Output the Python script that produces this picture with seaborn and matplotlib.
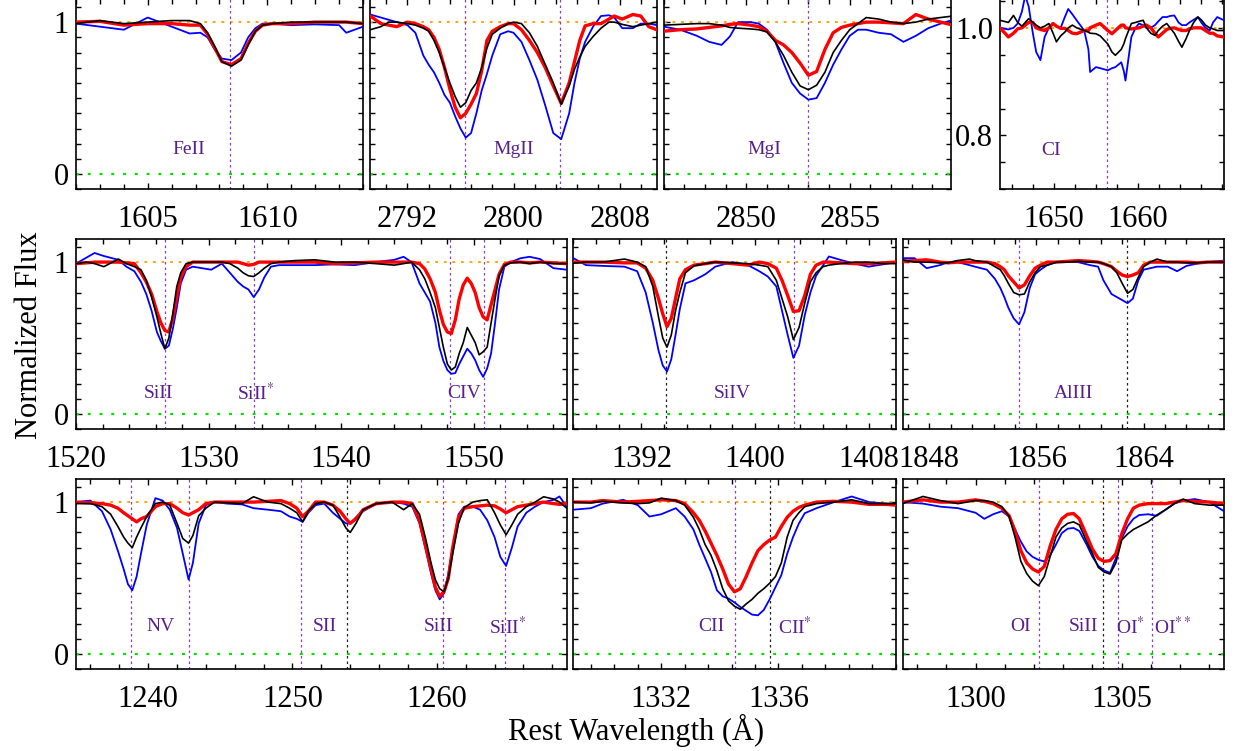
import matplotlib
matplotlib.use('Agg')
import matplotlib.pyplot as plt
from matplotlib.ticker import MultipleLocator, FixedLocator
import seaborn as sns

sns.set_theme(style='ticks')
plt.rcParams['font.family'] = ['Liberation Serif', 'DejaVu Serif']
plt.rcParams['mathtext.fontset'] = 'stix'
plt.rcParams['text.color'] = 'black'
plt.rcParams['axes.labelcolor'] = 'black'
plt.rcParams['xtick.color'] = 'black'
plt.rcParams['ytick.color'] = 'black'

# ---------------- data ----------------
# FeII 1608
feii_wave = [1602.0, 1603.0, 1604.0, 1605.0, 1606.0, 1606.75, 1607.2, 1607.5, 1607.8, 1608.1, 1608.5,
             1608.9, 1609.2, 1609.5, 1609.8, 1610.2, 1611.0, 1612.0, 1613.0, 1613.3, 1614.0]
feii_black = [0.99, 1.01, 0.99, 1.0, 1.01, 1.01, 0.99, 0.93, 0.84, 0.74, 0.71, 0.75, 0.85, 0.94, 0.98,
              0.99, 1.0, 1.0, 1.0, 1.0, 0.99]
feii_red = [1.0, 1.005, 0.98, 0.99, 0.99, 0.98, 0.98, 0.92, 0.83, 0.74, 0.72, 0.76, 0.86, 0.94, 0.98,
            0.99, 0.99, 1.0, 1.0, 1.0, 0.99]
feii_blue = [0.99, 0.97, 0.95, 1.03, 0.97, 0.925, 0.93, 0.90, 0.82, 0.76, 0.75, 0.80, 0.90, 0.96, 0.99,
             0.99, 0.98, 0.985, 0.98, 0.93, 0.97]

# MgII 2796/2803
mgii_wave = [2789.2, 2790.0, 2790.6, 2791.2, 2792.0, 2792.6, 2793.2, 2793.6, 2794.0, 2794.4, 2794.8,
             2795.2, 2795.6, 2796.0, 2796.4, 2796.8, 2797.2, 2797.6, 2798.0, 2798.4, 2799.0, 2799.6,
             2800.0, 2800.6, 2801.2, 2801.8, 2802.4, 2803.0, 2803.6, 2804.2, 2804.6, 2805.0, 2805.4,
             2806.0, 2806.6, 2807.2, 2807.6, 2808.2, 2809.0, 2809.6, 2810.2, 2810.8]
mgii_black = [0.95, 0.97, 1.0, 1.0, 0.99, 0.98, 0.96, 0.94, 0.88, 0.80, 0.70, 0.60, 0.51, 0.44, 0.47,
              0.55, 0.60, 0.70, 0.83, 0.92, 0.96, 0.99, 1.0, 0.99, 0.93, 0.84, 0.72, 0.60, 0.46, 0.58,
              0.69, 0.77, 0.84, 0.905, 0.96, 1.0, 1.0, 0.985, 0.97, 0.98, 0.99, 1.0]
mgii_red = [1.04, 0.99, 0.98, 0.97, 1.0, 0.99, 0.97, 0.95, 0.90, 0.82, 0.70, 0.56, 0.44, 0.37, 0.40,
            0.46, 0.53, 0.68, 0.88, 0.94, 0.97, 0.99, 0.99, 0.95, 0.88, 0.80, 0.70, 0.58, 0.465, 0.60,
            0.74, 0.88, 0.975, 0.99, 0.99, 1.02, 1.04, 1.02, 1.05, 1.04, 0.97, 0.95]
mgii_blue = [1.05, 1.03, 1.015, 1.0, 0.98, 0.93, 0.78, 0.72, 0.67, 0.60, 0.52, 0.47, 0.38, 0.30, 0.24,
             0.27, 0.40, 0.55, 0.66, 0.78, 0.92, 0.94, 0.93, 0.87, 0.75, 0.62, 0.45, 0.27, 0.23, 0.40,
             0.60, 0.76, 0.87, 0.97, 1.04, 1.045, 1.03, 0.96, 0.96, 0.99, 0.99, 0.98]

# MgI 2853
mgi_wave = [2846.0, 2846.8, 2847.6, 2848.2, 2848.8, 2849.2, 2849.6, 2850.2, 2850.6, 2851.0, 2851.4,
            2851.8, 2852.2, 2852.6, 2853.0, 2853.4, 2853.8, 2854.2, 2854.6, 2855.0, 2855.4, 2855.8,
            2856.4, 2857.0, 2857.6, 2858.2, 2858.8, 2859.4, 2860.0]
mgi_black = [0.98, 0.985, 0.99, 0.99, 0.98, 0.965, 0.96, 0.955, 0.95, 0.935, 0.87, 0.78, 0.67, 0.58,
             0.555, 0.585, 0.67, 0.80, 0.88, 0.95, 0.99, 1.03, 1.02, 1.0, 0.99, 1.0, 1.02, 1.03, 1.04]
mgi_red = [0.94, 0.95, 0.955, 0.965, 0.975, 0.985, 0.99, 0.98, 0.97, 0.94, 0.88, 0.85, 0.80, 0.73,
           0.65, 0.675, 0.82, 0.93, 0.965, 0.98, 0.99, 1.0, 1.0, 0.995, 0.99, 1.05, 1.02, 1.0, 0.98]
mgi_blue = [0.97, 0.95, 0.91, 0.87, 0.85, 0.905, 1.0, 1.0, 0.99, 0.95, 0.87, 0.73, 0.60, 0.53, 0.49,
            0.50, 0.60, 0.72, 0.82, 0.91, 0.95, 0.95, 0.93, 0.92, 0.87, 0.91, 0.96, 0.99, 1.015]

# CI 1657
ci_wave = [1643.6, 1644.6, 1645.2, 1645.7, 1646.2, 1646.6, 1647.0, 1647.5, 1647.9, 1648.4, 1648.9,
           1649.4, 1649.9, 1650.3, 1650.8, 1651.3, 1651.7, 1652.2, 1652.7, 1653.6, 1654.1, 1654.3,
           1655.0, 1655.5, 1656.4, 1656.9, 1657.3, 1658.0, 1658.3, 1658.5, 1659.2, 1659.7, 1660.1,
           1660.6, 1661.0, 1661.5, 1662.0, 1662.4, 1662.9, 1663.4, 1663.8, 1664.3, 1664.8, 1665.2,
           1665.7, 1666.1, 1666.6, 1667.1, 1667.5, 1668.0, 1668.5, 1668.9, 1669.4, 1670.2]
ci_black = [1.014, 1.01, 1.023, 1.01, 1.003, 1.01, 1.017, 1.01, 1.005, 1.0, 1.003, 1.008, 0.99, 0.974,
            0.985, 0.992, 1.0, 1.005, 1.0, 0.995, 0.992, 0.99, 0.989, 0.985, 0.97, 0.955, 0.949, 0.96,
            0.97, 0.98, 1.008, 1.01, 1.012, 1.014, 1.0, 0.99, 0.986, 0.995, 1.003, 1.008, 1.0, 0.99,
            0.975, 0.964, 0.98, 0.995, 1.01, 1.02, 1.015, 1.005, 1.0, 0.998, 0.995, 0.995]
ci_red = [1.0, 0.983, 0.99, 0.998, 1.0, 1.005, 1.01, 1.01, 1.0, 0.997, 0.995, 1.0, 1.008, 1.003, 0.999,
          0.999, 0.995, 0.99, 0.989, 0.995, 0.995, 1.0, 1.005, 1.008, 0.995, 0.989, 0.995, 1.005, 1.005,
          1.0, 0.998, 0.999, 1.0, 1.003, 1.005, 1.0, 0.99, 0.983, 0.99, 0.997, 0.999, 1.0, 0.997, 0.995,
          0.995, 0.998, 1.0, 1.0, 1.0, 0.995, 0.99, 0.99, 0.985, 0.983]
ci_blue = [1.0, 0.997, 1.0, 1.008, 1.03, 1.06, 1.04, 0.99, 0.955, 0.94, 0.983, 1.0, 1.008, 1.003, 1.0,
           1.02, 1.035, 1.025, 1.014, 0.995, 0.96, 0.918, 0.927, 0.925, 0.921, 0.925, 0.927, 0.936,
           0.92, 0.902, 0.983, 1.0, 1.008, 1.005, 1.0, 1.0, 1.005, 1.012, 1.02, 1.02, 1.022, 1.023, 1.01,
           1.005, 1.005, 1.01, 1.015, 1.02, 1.01, 1.0, 0.995, 1.01, 1.02, 1.014]

# SiII 1526 / SiII* 1533 / CIV 1548,1550
sc_wave = [1520.0, 1520.8, 1521.4, 1522.1, 1523.2, 1523.8, 1524.4, 1524.9, 1525.3, 1525.7, 1526.1,
           1526.4, 1526.7, 1527.0, 1527.3, 1527.6, 1527.9, 1528.3, 1528.8, 1529.5, 1530.2, 1531.0,
           1531.6, 1532.2, 1532.6, 1533.0, 1533.4, 1533.8, 1534.2, 1534.7, 1535.3, 1536.5, 1538.0,
           1539.5, 1541.0, 1542.6, 1544.0, 1544.7, 1545.3, 1545.9, 1546.3, 1546.7, 1547.1, 1547.4,
           1547.7, 1548.0, 1548.3, 1548.6, 1548.9, 1549.2, 1549.5, 1549.8, 1550.1, 1550.4, 1550.7,
           1551.0, 1551.3, 1551.6, 1551.9, 1552.3, 1552.8, 1553.5, 1554.2, 1555.0, 1556.0, 1557.0]
sc_black = [0.99, 1.0, 0.99, 0.97, 1.02, 0.99, 0.97, 0.95, 0.88, 0.77, 0.64, 0.53, 0.43, 0.50, 0.66,
            0.84, 0.93, 0.99, 1.0, 1.0, 1.0, 1.0, 0.99, 0.96, 0.93, 0.91, 0.905, 0.93, 0.96, 0.99, 1.0,
            1.01, 1.015, 1.0, 1.0, 0.99, 0.98, 0.99, 1.0, 0.95, 0.89, 0.80, 0.70, 0.57, 0.44, 0.33, 0.29,
            0.31, 0.40, 0.47, 0.57, 0.52, 0.47, 0.39, 0.41, 0.44, 0.60, 0.76, 0.91, 0.98, 0.995, 1.0,
            0.99, 1.0, 0.99, 0.99]
sc_red = [0.99, 0.995, 1.0, 1.0, 1.0, 0.995, 0.99, 0.93, 0.87, 0.79, 0.675, 0.60, 0.55, 0.54, 0.63,
          0.77, 0.90, 0.97, 1.0, 1.0, 1.0, 1.0, 1.0, 1.0, 0.99, 0.98, 0.985, 1.0, 1.0, 1.0, 1.0, 1.0,
          1.0, 0.99, 0.995, 1.0, 1.0, 1.0, 1.0, 0.99, 0.955, 0.89, 0.80, 0.685, 0.59, 0.54, 0.53, 0.62,
          0.76, 0.85, 0.894, 0.86, 0.80, 0.70, 0.64, 0.62, 0.72, 0.82, 0.92, 0.985, 1.0, 1.0, 0.995,
          1.0, 0.995, 0.99]
sc_blue = [0.99, 1.03, 1.06, 1.04, 1.015, 0.97, 0.94, 0.87, 0.79, 0.68, 0.54, 0.48, 0.43, 0.45, 0.56,
           0.70, 0.86, 0.95, 0.97, 0.96, 0.95, 0.99, 0.93, 0.87, 0.84, 0.82, 0.77, 0.82, 0.90, 0.97,
           0.98, 0.98, 0.98, 0.985, 0.98, 1.0, 1.015, 1.035, 1.0, 0.86, 0.80, 0.74, 0.60, 0.44, 0.35,
           0.29, 0.265, 0.27, 0.33, 0.38, 0.43, 0.40, 0.355, 0.29, 0.245, 0.30, 0.40, 0.60, 0.82, 0.97,
           1.0, 1.025, 1.035, 1.02, 0.96, 0.95]

# SiIV 1393/1402
siiv_wave = [1387.2, 1388.1, 1389.3, 1390.8, 1391.7, 1392.3, 1392.8, 1393.2, 1393.5, 1393.8, 1394.1,
             1394.4, 1394.7, 1395.1, 1395.7, 1396.5, 1397.2, 1398.4, 1399.5, 1400.3, 1400.9, 1401.5,
             1401.9, 1402.3, 1402.7, 1403.1, 1403.5, 1403.9, 1404.3, 1404.8, 1405.2, 1406.0, 1407.0,
             1408.0, 1409.0, 1409.9]
siiv_black = [0.993, 1.0, 1.0, 1.02, 1.0, 0.97, 0.84, 0.64, 0.50, 0.44, 0.52, 0.68, 0.80, 0.93, 0.975,
              0.99, 1.0, 0.995, 0.99, 0.98, 0.97, 0.88, 0.76, 0.64, 0.49, 0.57, 0.73, 0.87, 0.93, 0.97,
              0.98, 0.99, 1.0, 1.0, 0.99, 0.99]
siiv_red = [1.0, 1.0, 1.0, 0.995, 0.995, 0.96, 0.88, 0.76, 0.66, 0.575, 0.63, 0.76, 0.89, 0.95, 0.98,
            0.99, 1.0, 0.99, 0.98, 1.0, 0.99, 0.96, 0.88, 0.78, 0.675, 0.68, 0.78, 0.92, 0.98, 1.0, 1.0,
            0.995, 0.99, 0.99, 0.995, 1.0]
siiv_blue = [1.026, 0.98, 0.975, 0.97, 0.94, 0.80, 0.60, 0.42, 0.32, 0.28, 0.36, 0.52, 0.69, 0.86,
             0.88, 0.92, 0.97, 1.0, 0.98, 0.94, 0.905, 0.84, 0.68, 0.52, 0.37, 0.45, 0.65, 0.80, 0.91,
             0.98, 1.037, 1.015, 0.99, 0.97, 0.985, 1.0]

# AlIII 1854/1862
aliii_wave = [1846.0, 1846.9, 1847.8, 1848.8, 1849.4, 1850.1, 1851.0, 1851.4, 1852.3, 1852.9, 1853.3,
              1853.6, 1853.9, 1854.3, 1854.7, 1855.1, 1855.5, 1855.9, 1856.3, 1856.8, 1857.5, 1858.3,
              1859.1, 1860.0, 1860.6, 1861.0, 1861.6, 1862.0, 1862.4, 1862.8, 1863.2, 1863.6, 1864.0,
              1864.5, 1865.0, 1865.8, 1866.5, 1867.2, 1868.0, 1868.8, 1870.0]
aliii_black = [1.015, 1.0, 1.0, 0.995, 0.995, 1.01, 1.02, 1.01, 1.0, 0.97, 0.95, 0.91, 0.86, 0.80,
               0.785, 0.79, 0.87, 0.93, 0.97, 0.98, 1.0, 1.0, 1.005, 1.0, 1.0, 0.99, 0.97, 0.93, 0.86,
               0.795, 0.82, 0.90, 0.97, 1.0, 1.02, 1.0, 1.0, 0.995, 0.995, 1.0, 1.0]
aliii_red = [1.005, 1.01, 1.015, 1.0, 0.995, 1.0, 1.0, 1.0, 1.0, 0.99, 0.97, 0.95, 0.91, 0.87, 0.83,
             0.85, 0.91, 0.96, 0.98, 1.0, 1.0, 1.005, 1.01, 1.005, 1.0, 0.99, 0.97, 0.94, 0.915, 0.905,
             0.915, 0.93, 0.98, 1.0, 1.0, 1.0, 1.0, 1.0, 0.995, 1.0, 1.0]
aliii_blue = [1.026, 1.026, 0.96, 0.98, 1.0, 1.0, 0.98, 0.97, 0.95, 0.89, 0.83, 0.77, 0.70, 0.63, 0.59,
              0.67, 0.83, 0.92, 0.95, 0.98, 1.0, 1.0, 1.0, 0.98, 0.97, 0.88, 0.79, 0.77, 0.75, 0.73,
              0.76, 0.88, 0.95, 0.96, 0.97, 0.97, 0.94, 0.975, 0.99, 1.0, 1.01]

# NV 1238/1242, SII 1250/1253, SiII 1260, SiII* 1264
nv_wave = [1235.0, 1236.0, 1236.8, 1237.4, 1237.9, 1238.3, 1238.6, 1238.9, 1239.2, 1239.5, 1239.9,
           1240.5, 1241.0, 1241.5, 1242.0, 1242.4, 1242.8, 1243.1, 1243.5, 1244.0, 1244.6, 1245.5,
           1246.5, 1247.3, 1248.3, 1249.2, 1249.8, 1250.3, 1250.7, 1251.1, 1251.6, 1252.2, 1252.8,
           1253.3, 1253.7, 1254.0, 1254.4, 1254.9, 1255.8, 1256.9, 1257.7, 1258.3, 1258.8, 1259.2,
           1259.6, 1259.9, 1260.2, 1260.5, 1260.8, 1261.1, 1261.5, 1261.9, 1262.5, 1263.0, 1263.5,
           1264.0, 1264.4, 1264.8, 1265.2, 1265.6, 1266.2, 1266.8, 1267.4, 1268.1, 1268.5, 1269.0]
nv_black = [0.99, 0.99, 0.97, 0.92, 0.84, 0.77, 0.73, 0.70, 0.77, 0.83, 0.905, 0.99, 1.0, 0.98, 0.86,
            0.76, 0.73, 0.78, 0.91, 0.96, 1.0, 0.995, 0.99, 1.035, 1.0, 0.99, 0.96, 0.93, 0.87, 0.94,
            0.99, 1.0, 0.98, 0.90, 0.83, 0.80, 0.86, 0.95, 0.99, 1.0, 0.95, 0.99, 0.92, 0.77, 0.60,
            0.49, 0.43, 0.41, 0.50, 0.66, 0.86, 0.965, 1.0, 1.01, 1.015, 0.93, 0.85, 0.785, 0.85, 0.92,
            0.97, 1.0, 1.035, 1.02, 1.0, 0.96]
nv_red = [1.0, 0.995, 0.99, 0.98, 0.96, 0.93, 0.91, 0.89, 0.87, 0.89, 0.905, 0.97, 0.99, 0.99, 0.96,
          0.93, 0.915, 0.93, 0.95, 0.99, 1.0, 1.0, 1.0, 1.0, 1.005, 1.01, 0.99, 0.96, 0.905, 0.94, 1.0,
          1.0, 0.98, 0.94, 0.89, 0.86, 0.89, 0.95, 0.99, 1.0, 1.0, 0.99, 0.88, 0.72, 0.56, 0.44, 0.38,
          0.41, 0.50, 0.70, 0.90, 0.96, 0.97, 0.975, 0.98, 0.975, 0.955, 0.93, 0.95, 0.97, 0.98, 0.99,
          1.0, 0.99, 0.985, 0.99]
nv_blue = [1.0, 1.01, 0.94, 0.82, 0.68, 0.56, 0.46, 0.42, 0.51, 0.66, 0.85, 1.026, 1.01, 0.95, 0.83,
           0.66, 0.49, 0.60, 0.86, 0.98, 1.0, 0.99, 0.985, 0.96, 0.95, 0.94, 0.905, 0.89, 0.87, 0.93,
           0.98, 0.99, 0.93, 0.89, 0.86, 0.86, 0.90, 0.94, 0.99, 1.0, 0.99, 0.97, 0.86, 0.70, 0.53,
           0.42, 0.36, 0.40, 0.53, 0.70, 0.92, 0.97, 0.97, 0.95, 0.88, 0.77, 0.64, 0.58, 0.70, 0.84,
           0.93, 0.97, 1.0, 1.015, 1.037, 0.97]

# CII 1334 / CII* 1335
cii_wave = [1329.0, 1329.6, 1330.0, 1330.7, 1331.2, 1331.6, 1332.0, 1332.5, 1332.8, 1333.1, 1333.3,
            1333.5, 1333.7, 1333.9, 1334.1, 1334.3, 1334.5, 1334.7, 1334.9, 1335.1, 1335.3, 1335.5,
            1335.7, 1335.9, 1336.1, 1336.3, 1336.5, 1336.7, 1336.9, 1337.3, 1337.9, 1338.5, 1339.1,
            1339.7, 1340.0]
cii_black = [1.0, 0.995, 1.005, 0.995, 0.99, 0.995, 1.026, 1.01, 0.98, 0.90, 0.82, 0.72, 0.65, 0.55,
             0.43, 0.35, 0.315, 0.295, 0.33, 0.36, 0.40, 0.43, 0.466, 0.51, 0.60, 0.77, 0.88, 0.93,
             0.97, 0.99, 1.0, 1.015, 0.99, 0.99, 0.99]
cii_red = [1.0, 1.0, 1.01, 1.0, 1.005, 1.01, 1.015, 1.01, 0.99, 0.93, 0.88, 0.81, 0.73, 0.65, 0.56,
           0.46, 0.41, 0.43, 0.51, 0.60, 0.68, 0.72, 0.75, 0.77, 0.84, 0.90, 0.94, 0.965, 0.98, 1.0,
           1.005, 1.0, 0.985, 0.985, 0.98]
cii_blue = [0.95, 0.96, 0.99, 1.015, 0.98, 0.905, 0.92, 0.96, 0.905, 0.82, 0.72, 0.63, 0.54, 0.42,
            0.38, 0.365, 0.34, 0.31, 0.285, 0.26, 0.255, 0.29, 0.36, 0.44, 0.52, 0.66, 0.77, 0.86,
            0.927, 0.96, 1.0, 1.037, 1.0, 0.99, 0.99]

# OI 1302 / SiII 1304 / OI* / OI**
oi_wave = [1297.5, 1298.2, 1298.8, 1299.4, 1300.0, 1300.3, 1300.6, 1300.9, 1301.15, 1301.35, 1301.55,
           1301.75, 1301.95, 1302.15, 1302.35, 1302.55, 1302.75, 1302.95, 1303.15, 1303.35, 1303.55,
           1303.8, 1304.0, 1304.2, 1304.4, 1304.6, 1304.8, 1305.0, 1305.2, 1305.4, 1305.6, 1305.9,
           1306.2, 1306.5, 1306.8, 1307.1, 1307.5, 1308.0, 1308.5]
oi_black = [0.99, 1.037, 1.01, 0.99, 1.01, 1.01, 1.0, 0.97, 0.905, 0.77, 0.61, 0.53, 0.48, 0.45, 0.51,
            0.64, 0.77, 0.83, 0.86, 0.87, 0.85, 0.74, 0.66, 0.57, 0.54, 0.527, 0.60, 0.75, 0.79, 0.82,
            0.84, 0.87, 0.915, 0.95, 0.99, 1.02, 0.99, 0.98, 0.98]
oi_red = [1.0, 1.015, 1.0, 1.0, 1.015, 1.005, 0.99, 0.96, 0.91, 0.81, 0.68, 0.60, 0.56, 0.54, 0.576,
          0.71, 0.82, 0.89, 0.92, 0.925, 0.89, 0.78, 0.69, 0.63, 0.61, 0.615, 0.66, 0.79, 0.89, 0.96,
          0.98, 0.99, 0.99, 0.99, 1.0, 1.01, 1.005, 1.0, 0.99]
oi_blue = [1.0, 0.99, 0.97, 0.96, 0.93, 0.89, 0.92, 0.94, 0.905, 0.82, 0.74, 0.675, 0.64, 0.62, 0.61,
           0.65, 0.72, 0.796, 0.825, 0.83, 0.81, 0.72, 0.64, 0.58, 0.55, 0.535, 0.63, 0.76, 0.84, 0.89,
           0.915, 0.92, 0.91, 0.95, 0.99, 1.01, 1.02, 1.0, 0.94]

# transition wavelengths, marker colours and labels
feii_lines = [1608.45]
feii_line_colors = ['purple']
feii_labels = [('FeII', 1606.7)]
mgii_lines = [2796.35, 2803.53]
mgii_line_colors = ['purple', 'purple']
mgii_labels = [('MgII', 2800.0)]
mgi_lines = [2852.96]
mgi_line_colors = ['purple']
mgi_labels = [('MgI', 2850.85)]
ci_lines = [1656.3]
ci_line_colors = ['purple']
ci_labels = [('CI', 1649.7)]
sc_lines = [1526.71, 1533.43, 1548.20, 1550.78]
sc_line_colors = ['purple', 'purple', 'purple', 'purple']
sc_labels = [('SiII', 1526.2), (r'SiII$^{*}$', 1533.5), ('CIV', 1549.3)]
siiv_lines = [1393.76, 1402.77]
siiv_line_colors = ['black', 'purple']
siiv_labels = [('SiIV', 1398.4)]
aliii_lines = [1854.72, 1862.79]
aliii_line_colors = ['purple', 'black']
aliii_labels = [('AlIII', 1858.76)]
nv_lines = [1238.82, 1242.80, 1250.58, 1253.81, 1260.42, 1264.74]
nv_line_colors = ['purple', 'purple', 'purple', 'black', 'purple', 'purple']
nv_labels = [('NV', 1240.83), ('SII', 1252.26), ('SiII', 1260.15), (r'SiII$^{*}$', 1264.9)]
cii_lines = [1334.53, 1335.71]
cii_line_colors = ['purple', 'black']
cii_labels = [('CII', 1333.7), (r'CII$^{*}$', 1336.55)]
oi_lines = [1302.17, 1304.37, 1304.86, 1306.03]
oi_line_colors = ['purple', 'black', 'purple', 'purple']
oi_labels = [('OI', 1301.55), ('SiII', 1303.7), (r'OI$^{*}$', 1305.3), (r'OI$^{**}$', 1306.75)]

# ---------------- layout ----------------
W, H = 1237, 751
fig = plt.figure(figsize=(W / 100, H / 100), dpi=100)
fig.patch.set_facecolor('white')

PURPLE_LINE = '#8a3fc8'
PURPLE_TEXT = '#5a1f8e'
AX_H = 190.0


def make_ax(x0, x1, ytop):
    return fig.add_axes([x0 / W, 1 - (ytop + AX_H) / H, (x1 - x0) / W, AX_H / H])


panels = [
    dict(px=(76, 363, -0.7), w=feii_wave, k=feii_black, r=feii_red, b=feii_blue, xlim=(1602, 1614),
         major=[1605, 1610], minor=1.0, lines=feii_lines, lcol=feii_line_colors, labels=feii_labels,
         ly=0.16, ylab=True),
    dict(px=(370.3, 656.7, -0.7), w=mgii_wave, k=mgii_black, r=mgii_red, b=mgii_blue,
         xlim=(2789.2, 2810.8), major=[2792, 2800, 2808], minor=1.6, lines=mgii_lines,
         lcol=mgii_line_colors, labels=mgii_labels, ly=0.16, ylab=False),
    dict(px=(663.7, 951, -0.7), w=mgi_wave, k=mgi_black, r=mgi_red, b=mgi_blue, xlim=(2846, 2859.9),
         major=[2850, 2855], minor=1.0, lines=mgi_lines, lcol=mgi_line_colors, labels=mgi_labels,
         ly=0.16, ylab=False),
    dict(px=(1000, 1224, -0.7), w=ci_wave, k=ci_black, r=ci_red, b=ci_blue, xlim=(1643.6, 1670.2),
         major=[1650, 1660], minor=2.5, lines=ci_lines, lcol=ci_line_colors, labels=ci_labels,
         ly=0.772, ylab='ci'),
    dict(px=(76, 566.7, 239.3), w=sc_wave, k=sc_black, r=sc_red, b=sc_blue, xlim=(1520, 1557),
         major=[1520, 1530, 1540, 1550], minor=2.0, lines=sc_lines, lcol=sc_line_colors,
         labels=sc_labels, ly=0.137, ylab=True),
    dict(px=(573.3, 895.6, 239.3), w=siiv_wave, k=siiv_black, r=siiv_red, b=siiv_blue,
         xlim=(1387.2, 1409.9), major=[1392, 1400, 1408], minor=1.6, lines=siiv_lines,
         lcol=siiv_line_colors, labels=siiv_labels, ly=0.137, ylab=False),
    dict(px=(902.5, 1224, 239.3), w=aliii_wave, k=aliii_black, r=aliii_red, b=aliii_blue,
         xlim=(1846, 1870), major=[1848, 1856, 1864], minor=1.6, lines=aliii_lines,
         lcol=aliii_line_colors, labels=aliii_labels, ly=0.137, ylab=False),
    dict(px=(76, 566.7, 479.3), w=nv_wave, k=nv_black, r=nv_red, b=nv_blue, xlim=(1235, 1269),
         major=[1240, 1250, 1260], minor=2.0, lines=nv_lines, lcol=nv_line_colors, labels=nv_labels,
         ly=0.18, ylab=True),
    dict(px=(573.3, 895.6, 479.3), w=cii_wave, k=cii_black, r=cii_red, b=cii_blue, xlim=(1329, 1340),
         major=[1332, 1336], minor=0.8, lines=cii_lines, lcol=cii_line_colors, labels=cii_labels,
         ly=0.18, ylab=False),
    dict(px=(902.5, 1224, 479.3), w=oi_wave, k=oi_black, r=oi_red, b=oi_blue, xlim=(1297.5, 1308.5),
         major=[1300, 1305], minor=1.0, lines=oi_lines, lcol=oi_line_colors, labels=oi_labels,
         ly=0.18, ylab=False),
]

for p in panels:
    x0, x1, ytop = p['px']
    ax = make_ax(x0, x1, ytop)
    ax.set_facecolor('white')
    # reference levels
    ax.axhline(1.0, color='#ffa500', lw=1.4, ls=(0, (1.4, 3.0)), zorder=1)
    ax.axhline(0.0, color='#00e000', lw=1.6, ls=(0, (1.3, 4.0)), zorder=1)
    # transition markers
    for wl, c in zip(p['lines'], p['lcol']):
        col = PURPLE_LINE if c == 'purple' else '#222222'
        ax.axvline(wl, color=col, lw=0.9, ls=(0, (2.0, 2.4)), zorder=1)
    # spectra
    sns.lineplot(x=p['w'], y=p['b'], ax=ax, color='#0000ff', linewidth=1.3, sort=False,
                 estimator=None, legend=False, zorder=3)
    sns.lineplot(x=p['w'], y=p['r'], ax=ax, color='#ff0000', linewidth=2.4, sort=False,
                 estimator=None, legend=False, zorder=4)
    sns.lineplot(x=p['w'], y=p['k'], ax=ax, color='#000000', linewidth=1.2, sort=False,
                 estimator=None, legend=False, zorder=5)
    # labels of species
    for txt, xl in p['labels']:
        ax.text(xl, p['ly'], txt, color=PURPLE_TEXT, fontsize=14, ha='center', va='center', zorder=6)

    ax.set_xlim(*p['xlim'])
    ax.xaxis.set_major_locator(FixedLocator(p['major']))
    ax.xaxis.set_minor_locator(MultipleLocator(p['minor']))
    ax.set_xticklabels([str(m) for m in p['major']])

    if p['ylab'] == 'ci':
        ax.set_ylim(0.7, 1.053)
        ax.yaxis.set_major_locator(FixedLocator([0.8, 1.0]))
        ax.yaxis.set_minor_locator(MultipleLocator(0.05))
        ax.set_yticklabels(['0.8', '1.0'])
    else:
        ax.set_ylim(-0.1, 1.15)
        ax.yaxis.set_major_locator(FixedLocator([0, 1]))
        ax.yaxis.set_minor_locator(MultipleLocator(0.1))
        if p['ylab']:
            ax.set_yticklabels(['0', '1'])
        else:
            ax.set_yticklabels([])

    ax.set_xlabel('')
    ax.set_ylabel('')
    ax.tick_params(which='both', direction='in', top=True, right=True, colors='black',
                   labelcolor='black', labelsize=22, width=1.0)
    ax.tick_params(which='major', length=4.0)
    ax.tick_params(which='minor', length=3.5)
    ax.tick_params(axis='x', which='both', pad=11)
    ax.tick_params(axis='y', which='both', pad=5)
    for s in ax.spines.values():
        s.set_visible(True)
        s.set_color('black')
        s.set_linewidth(1.2)

fig.text(30 / W, 1 - 335 / H, 'Normalized Flux', rotation=90, ha='center', va='center',
         fontsize=22, color='black')
fig.text(636 / W, 1 - 730 / H, 'Rest Wavelength (Å)', ha='center', va='center', fontsize=22,
         color='black')

fig.savefig('out.png', dpi=100, facecolor='white')
